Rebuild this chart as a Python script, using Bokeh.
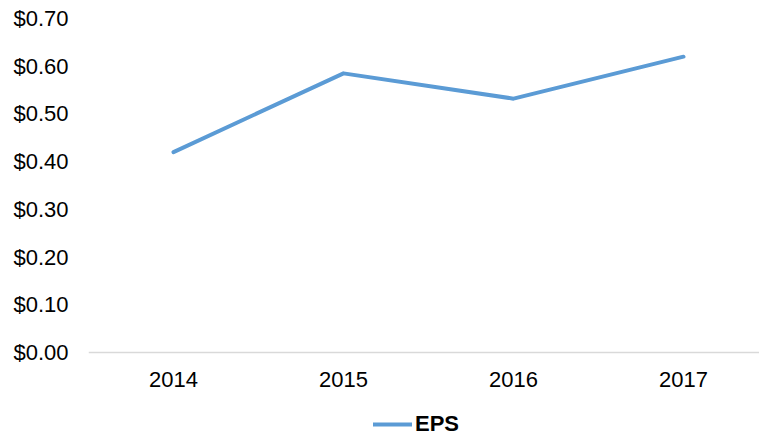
from bokeh.plotting import figure
from bokeh.models import Range1d, FixedTicker, NumeralTickFormatter, Legend, LegendItem
from bokeh.embed import file_html
from bokeh.resources import INLINE

years = [2014, 2015, 2016, 2017]
eps = [0.42, 0.585, 0.532, 0.62]
y_ticks = [0.0, 0.1, 0.2, 0.3, 0.4, 0.5, 0.6, 0.7]
series_name = "EPS"

FONT = "Liberation Sans"
LINE_COLOR = "#5B9BD5"

W, H = 759, 437
LEFT, TOP = 88, 18
ZERO_Y = 352            # pixel row of the $0.00 baseline
Y_MAX = 0.70
px_per_unit = (ZERO_Y - TOP) / Y_MAX
y_start = -(H - ZERO_Y) / px_per_unit

p = figure(width=W, height=H, output_backend="svg", toolbar_location=None,
           x_range=Range1d(2013.5, 2013.5 + (W - LEFT) / 170),
           y_range=Range1d(y_start, Y_MAX),
           min_border_left=LEFT, min_border_right=0, min_border_top=TOP, min_border_bottom=0)

r = p.line(years, eps, line_color=LINE_COLOR, line_width=4, line_cap="round", line_join="round")

p.xgrid.visible = False
p.ygrid.visible = False
p.outline_line_color = None
p.background_fill_color = "white"
p.border_fill_color = "white"

p.yaxis.ticker = FixedTicker(ticks=y_ticks)
p.yaxis.formatter = NumeralTickFormatter(format="$0.00")
p.yaxis.axis_line_color = None
p.yaxis.major_tick_line_color = None
p.yaxis.minor_tick_line_color = None
p.yaxis.major_tick_in = 0
p.yaxis.major_tick_out = 0
p.yaxis.major_label_standoff = 20
p.yaxis.major_label_text_font = FONT
p.yaxis.major_label_text_font_size = "22px"
p.yaxis.major_label_text_color = "#000000"

p.xaxis.fixed_location = 0
p.xaxis.ticker = FixedTicker(ticks=years)
p.xaxis.axis_line_color = "#D9D9D9"
p.xaxis.axis_line_width = 1.5
p.xaxis.major_tick_line_color = None
p.xaxis.minor_tick_line_color = None
p.xaxis.major_tick_in = 0
p.xaxis.major_tick_out = 0
p.xaxis.major_label_standoff = 19
p.xaxis.major_label_text_font = FONT
p.xaxis.major_label_text_font_size = "22px"
p.xaxis.major_label_text_color = "#000000"

legend = Legend(items=[LegendItem(label=series_name, renderers=[r])],
                orientation="horizontal", location=(285, 0),
                label_text_font=FONT, label_text_font_style="bold",
                label_text_font_size="22px", label_text_color="#000000",
                glyph_width=39, label_standoff=3,
                border_line_color=None, background_fill_alpha=0,
                padding=0, margin=0, spacing=0)
p.add_layout(legend)

open("out.html", "w").write(file_html(p, INLINE))
